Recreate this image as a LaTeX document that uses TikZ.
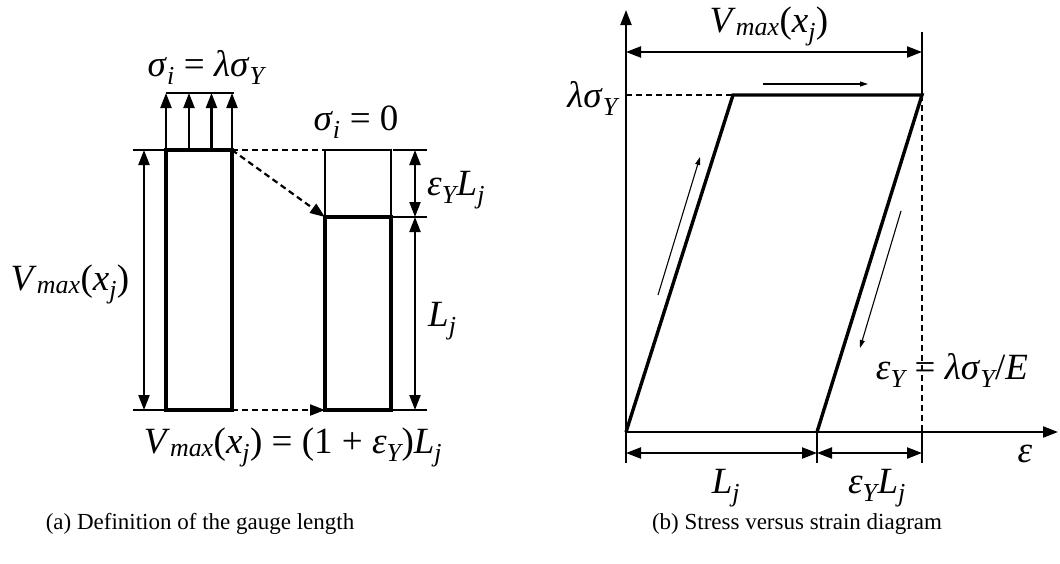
\documentclass[tikz,border=0pt]{standalone}
\usepackage{fontspec}
\setmainfont{Liberation Serif}
\usetikzlibrary{arrows.meta}
\newcommand\sbs[1]{$_{\text{\itshape #1}}$}
\usepackage{amsmath}
\tikzset{
  lbl/.style={font=\fontsize{37}{40}\selectfont, inner sep=0pt},
  captext/.style={font=\fontsize{23}{26}\selectfont, inner sep=0pt},
  thickln/.style={line width=3.4pt},
  medln/.style={line width=2.2pt},
  dim/.style={line width=2.2pt, {Triangle[length=15pt,width=11pt]}-{Triangle[length=15pt,width=11pt]}},
  arr/.style={line width=2.2pt, -{Triangle[length=15pt,width=11pt]}},
  smallarr/.style={line width=1.1pt, -{Triangle[length=8pt,width=5pt]}},
  dsh/.style={line width=2.2pt, dash pattern=on 6pt off 4pt},
}
\begin{document}
\begin{tikzpicture}[x=1pt,y=-1pt]
\useasboundingbox (0,0) rectangle (1060,563);
% ---------- left figure ----------
\coordinate (A1) at (166,150); \coordinate (A2) at (232,150);
\coordinate (A3) at (232,410); \coordinate (A4) at (166,410);
\coordinate (B1) at (325,150); \coordinate (B2) at (391,150);
\coordinate (BM1) at (325,217); \coordinate (BM2) at (391,217);
\coordinate (B3) at (391,410); \coordinate (B4) at (325,410);
% boxes
\draw[medln] (B1) rectangle (BM2);
\draw[thickln] (A1) rectangle (A3);
\draw[thickln] (BM1) rectangle (B3);
% stress arrows
\foreach \x/\n in {166/p1,189/p2,211.5/p3,232/p4}{
  \coordinate (\n b) at (\x,150); \coordinate (\n t) at (\x,93);
  \draw[arr] (\n b) -- (\n t);
}
\draw[medln] (p1t) -- ++(68,0);
% left extension lines and dimension
\coordinate (eL1) at (133,150); \coordinate (eL2) at (133,410);
\draw[medln] (eL1) -- (A1);
\draw[medln] (eL2) -- (A4);
\coordinate (dL1) at (144,150); \coordinate (dL2) at (144,410);
\draw[dim] (dL1) -- (dL2);
% dashed connections
\draw[dsh] (A2) -- (B1);
\draw[dsh, -{Triangle[length=15pt,width=11pt]}] (A2) -- (BM1);
\draw[dsh, -{Triangle[length=15pt,width=11pt]}] (A3) -- (B4);
% right extension lines and dimensions
\coordinate (eR1) at (427,150); \coordinate (eR2) at (427,217); \coordinate (eR3) at (427,410);
\draw[medln] (393,150) -- (eR1);
\draw[medln] (393,217) -- (eR2);
\draw[medln] (393,410) -- (eR3);
\coordinate (dR1) at (415,150); \coordinate (dR2) at (415,217); \coordinate (dR3) at (415,410);
\draw[dim] (dR1) -- (dR2);
\draw[dim] (dR2) -- (dR3);
% labels left
\node[lbl, anchor=base] (sig1) at (206,76) {\textit{σ}\sbs{i} = \textit{λσ}\sbs{Y}};
\node[lbl, anchor=base] (sig0) at (356,130) {\textit{σ}\sbs{i} = 0};
\node[lbl, anchor=base west] (epsL) at (427,195) {\textit{ε}\sbs{Y}\textit{L}\sbs{j}};
\node[lbl, anchor=base west] (Lj) at (428,326) {\textit{L}\sbs{j}};
\node[lbl, anchor=base] (vmaxL) at (70,290) {\textit{V}\sbs{max}(\textit{x}\sbs{j})};
\node[lbl, anchor=base] (eqL) at (293,453) {\textit{V}\sbs{max}(\textit{x}\sbs{j}) = (1 + \textit{ε}\sbs{Y})\textit{L}\sbs{j}};
\node[captext] (capA) at (200,524) {(a) Definition of the gauge length};
% ---------- right figure ----------
\coordinate (O) at (626,432);
\coordinate (Ytop) at (626,10); \coordinate (Ybot) at (626,463);
\coordinate (Xend) at (1058,432);
\coordinate (P1) at (733,95); \coordinate (P2) at (922,95);
\coordinate (P3) at (817,432);
\draw[arr] (Ybot) -- (Ytop);
\draw[arr] (O) -- (Xend);
\draw[thickln, line join=miter] (O) -- (P1) -- (P2) -- (P3);
\draw[dsh] (626,95) -- (P1);
\draw[dsh] (P2) -- (922,432);
\draw[medln] (922,32) -- (P2);
\draw[medln] (922,432) -- (922,463);
\draw[medln] (P3) -- (817,463);
\draw[dim] (626,52) -- (922,52);
\draw[dim] (626,453) -- (P3 |- 0,453);
\draw[dim] (P3 |- 0,453) -- (922,453);
% small direction arrows
\coordinate (s1a) at (763,84); \coordinate (s1b) at (868,84);
\coordinate (s2a) at (658,295); \coordinate (s2b) at (700,157);
\coordinate (s3a) at (901,211); \coordinate (s3b) at (860,348);
\draw[smallarr] (s1a) -- (s1b);
\draw[smallarr] (s2a) -- (s2b);
\draw[smallarr] (s3a) -- (s3b);
% labels right
\node[lbl, anchor=base east] (lsig) at (618,107) {\textit{λσ}\sbs{Y}};
\node[lbl, anchor=base] (vmaxR) at (769,32) {\textit{V}\sbs{max}(\textit{x}\sbs{j})};
\node[lbl, anchor=base] (epsdef) at (952,379) {\textit{ε}\sbs{Y} = \textit{λσ}\sbs{Y}/\textit{E}};
\node[lbl, anchor=base] (epsax) at (1025,462) {\textit{ε}};
\node[lbl, anchor=base] (LjR) at (726,493) {\textit{L}\sbs{j}};
\node[lbl, anchor=base] (epsLR) at (877,493) {\textit{ε}\sbs{Y}\textit{L}\sbs{j}};
\node[captext] (capB) at (797,524) {(b) Stress versus strain diagram};
\end{tikzpicture}
\end{document}
